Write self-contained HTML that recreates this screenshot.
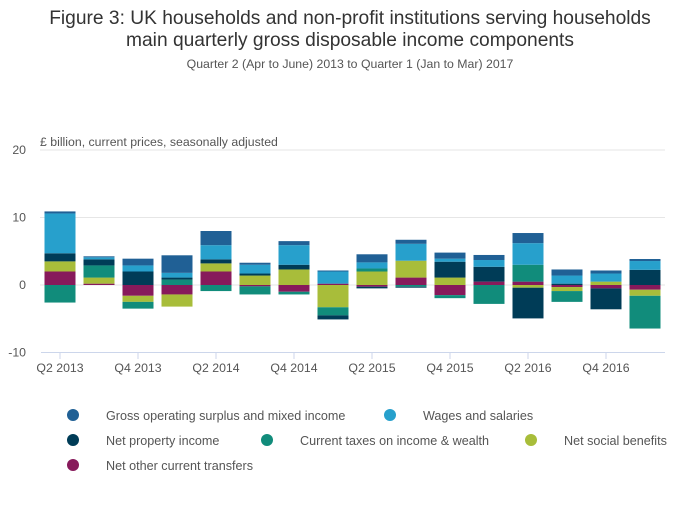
<!DOCTYPE html>
<html><head><meta charset="utf-8"><style>
body{margin:0;background:#fff;font-family:"Liberation Sans",sans-serif;}
svg text{font-family:"Liberation Sans",sans-serif;}
</style></head><body>
<svg id="chart" width="700" height="502">
<text x="350" y="24" text-anchor="middle" font-size="19.2" fill="#333">Figure 3: UK households and non-profit institutions serving households</text>
<text x="350" y="46" text-anchor="middle" font-size="19.2" fill="#333">main quarterly gross disposable income components</text>
<text x="350" y="68" text-anchor="middle" font-size="12.3" fill="#555">Quarter 2 (Apr to June) 2013 to Quarter 1 (Jan to Mar) 2017</text>
<text x="40" y="146" font-size="12.3" fill="#555">£ billion, current prices, seasonally adjusted</text>
<g id="grid"></g><g id="bars"></g><g id="xaxis"></g><g id="legend"></g>
</svg>
<script>
const categories=["Q2 2013","Q3 2013","Q4 2013","Q1 2014","Q2 2014","Q3 2014","Q4 2014","Q1 2015","Q2 2015","Q3 2015","Q4 2015","Q1 2016","Q2 2016","Q3 2016","Q4 2016","Q1 2017"];
const otherTransfers=[2.0,0.2,-1.6,-1.4,2.0,-0.2,-1.0,0.2,-0.25,1.1,-1.5,0.5,0.5,-0.3,-0.5,-0.7];
const socialBenefits=[1.5,0.9,-0.9,-1.8,1.2,1.4,2.3,-3.3,2.0,2.5,1.1,0,-0.4,-0.6,0.5,-0.9];
const taxes=[-2.6,1.8,-1.0,0.8,-0.9,-1.2,-0.4,-1.2,0.45,-0.25,-0.45,-2.8,2.5,-1.6,0,-4.85];
const propertyIncome=[1.2,0.9,2.0,0.3,0.6,0.3,0.7,-0.6,-0.25,-0.15,2.35,2.2,-4.55,0.2,-3.1,2.25];
const wages=[5.9,0.3,0.9,0.7,2.1,1.3,2.9,1.8,0.9,2.5,0.45,1.0,3.2,1.2,1.2,1.3];
const gos=[0.3,0.15,1.0,2.6,2.1,0.3,0.6,0.15,1.2,0.6,0.9,0.75,1.5,0.9,0.45,0.3];
const yTicks=[20,10,0,-10];
const xTickLabels=["Q2 2013","Q4 2013","Q2 2014","Q4 2014","Q2 2015","Q4 2015","Q2 2016","Q4 2016"];
const seriesNames=["Gross operating surplus and mixed income","Wages and salaries","Net property income","Current taxes on income & wealth","Net social benefits","Net other current transfers"];

const NS="http://www.w3.org/2000/svg";
function mk(t,a,p){const e=document.createElementNS(NS,t);for(const k in a)e.setAttribute(k,a[k]);p.appendChild(e);return e;}
const y=v=>285-v*6.75;
const x=i=>60+i*39;
const series=[
 {v:otherTransfers,c:"#871a5b",n:"net-other-transfers"},
 {v:socialBenefits,c:"#a8bd3a",n:"net-social-benefits"},
 {v:taxes,c:"#118c7b",n:"current-taxes"},
 {v:propertyIncome,c:"#003c57",n:"net-property-income"},
 {v:wages,c:"#27a0cc",n:"wages-salaries"},
 {v:gos,c:"#206095",n:"gross-operating-surplus"}];
const grid=document.getElementById('grid');
yTicks.forEach(t=>{
 if(t>-10){const l=mk('line',{x1:40,x2:665,y1:y(t),y2:y(t),stroke:"#e6e6e6","stroke-width":1},grid);
 
 }
 const tx=mk('text',{x:26,y:y(t)+4,"text-anchor":"end","font-size":12.3,fill:"#555"},grid);tx.textContent=t;
 
 
});
const bars=document.getElementById('bars');
categories.forEach((c,i)=>{
 let pos=0,neg=0;
 series.forEach(s=>{
  const v=s.v[i];if(!v)return;
  let a,b;if(v>0){a=pos;b=pos+v;pos=b;}else{a=neg;b=neg+v;neg=b;}
  const r=mk('rect',{x:x(i)-15.5,width:31,y:Math.min(y(a),y(b)),height:Math.abs(y(a)-y(b)),fill:s.c},bars);
  
  
 });
});
const xa=document.getElementById('xaxis');
const ax=mk('line',{x1:41,x2:665,y1:352.5,y2:352.5,stroke:"#ccd6eb"},xa);


xTickLabels.forEach((l,j)=>{
 const i=j*2;
 const tk=mk('line',{x1:x(i),x2:x(i),y1:352,y2:359,stroke:"#ccd6eb"},xa);
 
 
 const t=mk('text',{x:x(i),y:372,"text-anchor":"middle","font-size":12.3,fill:"#555"},xa);t.textContent=l;
 
 
});
const lg=document.getElementById('legend');
const lpos=[[73,415],[390,415],[73,440],[267,440],[531,440],[73,465]];
const lcol=["#206095","#27a0cc","#003c57","#118c7b","#a8bd3a","#871a5b"];
seriesNames.forEach((n,k)=>{
 const g=mk('g',{},lg);
 
 
 mk('circle',{cx:lpos[k][0],cy:lpos[k][1],r:6,fill:lcol[k]},g);
 const t=mk('text',{x:lpos[k][0]+33,y:lpos[k][1]+5,"font-size":12.6,fill:"#555"},g);t.textContent=n;
});
</script>
</body></html>
